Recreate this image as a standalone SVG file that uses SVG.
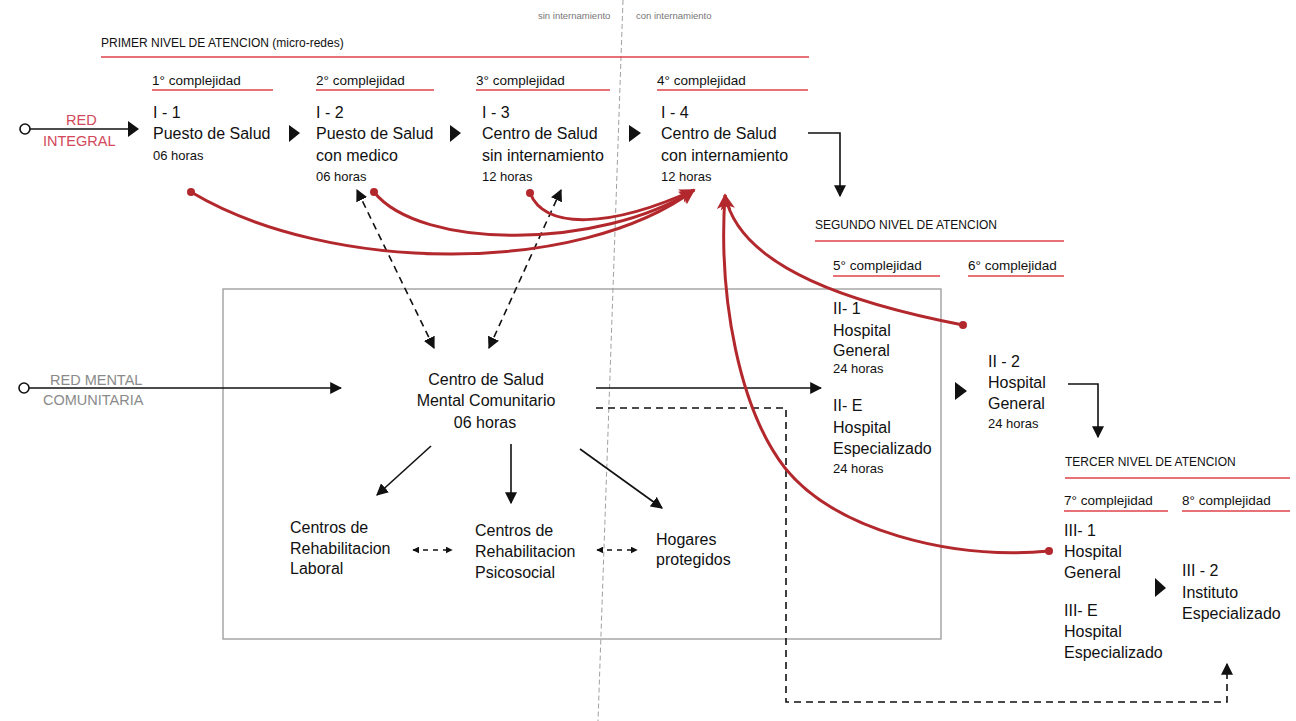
<svg xmlns="http://www.w3.org/2000/svg" width="1296" height="721" viewBox="0 0 1296 721">
<defs>
<style>
text{font-family:"Liberation Sans",Arial,sans-serif;fill:#111}
.n{font-size:16px}
.h{font-size:13px}
.c{font-size:13.5px}
.lvl{font-size:12px}
.tiny{font-size:9.5px;fill:#777}
.gray{font-size:14.5px;fill:#8a8a8a}
.redt{font-size:14.5px;fill:#d2485a}
.rl{stroke:#e0404a;stroke-width:1.3;fill:none}
.blk{stroke:#111;stroke-width:1.6;fill:none}
.dsh{stroke:#111;stroke-width:1.6;fill:none;stroke-dasharray:7 5}
.red{stroke:#b3282d;stroke-width:3;fill:none}
</style>
<marker id="ab" viewBox="0 0 10 10" refX="9" refY="5" markerWidth="7" markerHeight="7" markerUnits="userSpaceOnUse" orient="auto-start-reverse">
<path d="M0,0 L10,5 L0,10 Z" fill="#111"/>
</marker>
<marker id="abL" viewBox="0 0 10 10" refX="9" refY="5" markerWidth="12" markerHeight="12" markerUnits="userSpaceOnUse" orient="auto-start-reverse">
<path d="M0,0 L10,5 L0,10 Z" fill="#111"/>
</marker>
<marker id="ar" viewBox="0 0 10 10" refX="9" refY="5" markerWidth="16" markerHeight="16" markerUnits="userSpaceOnUse" orient="auto">
<path d="M0,0.5 L10,5 L0,9.5 L2.5,5 Z" fill="#b3282d"/>
</marker>
</defs>
<rect width="1296" height="721" fill="#fff"/>

<g id="divider">
<line x1="623" y1="0" x2="598" y2="721" stroke="#888" stroke-width="0.8" stroke-dasharray="5 3"/>
<text class="tiny" x="538" y="19">sin internamiento</text>
<text class="tiny" x="636" y="19">con internamiento</text>
</g>

<g id="primer-nivel">
<text class="lvl" x="101" y="47">PRIMER NIVEL DE ATENCION (micro-redes)</text>
<line class="rl" x1="101" y1="57" x2="809" y2="57"/>
<text class="c" x="152" y="85">1° complejidad</text>
<line class="rl" x1="152" y1="90" x2="273" y2="90"/>
<text class="c" x="316" y="85">2° complejidad</text>
<line class="rl" x1="316" y1="90" x2="434" y2="90"/>
<text class="c" x="476" y="85">3° complejidad</text>
<line class="rl" x1="476" y1="90" x2="610" y2="90"/>
<text class="c" x="657" y="85">4° complejidad</text>
<line class="rl" x1="657" y1="90" x2="808" y2="90"/>
</g>
<g id="segundo-nivel">
<text class="lvl" x="815" y="229">SEGUNDO NIVEL DE ATENCION</text>
<line class="rl" x1="815" y1="241" x2="1064" y2="241"/>
<text class="c" x="833" y="270">5° complejidad</text>
<line class="rl" x1="833" y1="276" x2="940" y2="276"/>
<text class="c" x="968" y="270">6° complejidad</text>
<line class="rl" x1="968" y1="276" x2="1064" y2="276"/>
</g>
<g id="tercer-nivel">
<text class="lvl" x="1065" y="466">TERCER NIVEL DE ATENCION</text>
<line class="rl" x1="1065" y1="478" x2="1290" y2="478"/>
<text class="c" x="1064" y="505">7° complejidad</text>
<line class="rl" x1="1064" y1="511" x2="1168" y2="511"/>
<text class="c" x="1182" y="505">8° complejidad</text>
<line class="rl" x1="1182" y1="511" x2="1290" y2="511"/>
</g>

<rect id="mental-box" x="223" y="289" width="718" height="350" fill="none" stroke="#999" stroke-width="1.3"/>

<g id="red-integral">
<text class="redt" x="66" y="125">RED</text>
<text class="redt" x="43" y="146">INTEGRAL</text>
</g>
<g id="I-1">
<text class="n" x="153" y="118">I - 1</text>
<text class="n" x="153" y="139">Puesto de Salud</text>
<text class="h" x="153" y="160">06 horas</text>
</g>
<g id="I-2">
<text class="n" x="316" y="118">I - 2</text>
<text class="n" x="316" y="139">Puesto de Salud</text>
<text class="n" x="316" y="161">con medico</text>
<text class="h" x="316" y="181">06 horas</text>
</g>
<g id="I-3">
<text class="n" x="482" y="118">I - 3</text>
<text class="n" x="482" y="139">Centro de Salud</text>
<text class="n" x="482" y="161">sin internamiento</text>
<text class="h" x="482" y="181">12 horas</text>
</g>
<g id="I-4">
<text class="n" x="661" y="118">I - 4</text>
<text class="n" x="661" y="139">Centro de Salud</text>
<text class="n" x="661" y="161">con internamiento</text>
<text class="h" x="661" y="181">12 horas</text>
</g>
<g id="II-1">
<text class="n" x="833" y="314">II- 1</text>
<text class="n" x="833" y="336">Hospital</text>
<text class="n" x="833" y="356">General</text>
<text class="h" x="833" y="373">24 horas</text>
</g>
<g id="II-E">
<text class="n" x="833" y="411">II- E</text>
<text class="n" x="833" y="433">Hospital</text>
<text class="n" x="833" y="454">Especializado</text>
<text class="h" x="833" y="473">24 horas</text>
</g>
<g id="II-2">
<text class="n" x="988" y="367">II - 2</text>
<text class="n" x="988" y="388">Hospital</text>
<text class="n" x="988" y="409">General</text>
<text class="h" x="988" y="428">24 horas</text>
</g>
<g id="III-1">
<text class="n" x="1064" y="536">III- 1</text>
<text class="n" x="1064" y="557">Hospital</text>
<text class="n" x="1064" y="578">General</text>
</g>
<g id="III-E">
<text class="n" x="1064" y="616">III- E</text>
<text class="n" x="1064" y="637">Hospital</text>
<text class="n" x="1064" y="658">Especializado</text>
</g>
<g id="III-2">
<text class="n" x="1182" y="576">III - 2</text>
<text class="n" x="1182" y="598">Instituto</text>
<text class="n" x="1182" y="619">Especializado</text>
</g>
<g id="red-mental">
<text class="gray" x="50" y="385">RED MENTAL</text>
<text class="gray" x="43" y="405">COMUNITARIA</text>
</g>
<g id="csmc">
<text class="n" x="486" y="385" text-anchor="middle">Centro de Salud</text>
<text class="n" x="486" y="406" text-anchor="middle">Mental Comunitario</text>
<text class="n" x="485" y="428" text-anchor="middle">06 horas</text>
</g>
<g id="laboral">
<text class="n" x="290" y="533">Centros de</text>
<text class="n" x="290" y="554">Rehabilitacion</text>
<text class="n" x="290" y="574">Laboral</text>
</g>
<g id="psicosocial">
<text class="n" x="475" y="536">Centros de</text>
<text class="n" x="475" y="557">Rehabilitacion</text>
<text class="n" x="475" y="578">Psicosocial</text>
</g>
<g id="hogares">
<text class="n" x="656" y="545">Hogares</text>
<text class="n" x="656" y="565">protegidos</text>
</g>

<g id="connectors">
<circle cx="25" cy="129" r="5" fill="#fff" stroke="#111" stroke-width="1.6"/>
<line class="blk" x1="30" y1="129" x2="130" y2="129"/>
<polygon points="128,121 139,129 128,137" fill="#111"/>
<polygon points="289,125 300,133 289,142" fill="#111"/>
<polygon points="450,125 461,133 450,142" fill="#111"/>
<polygon points="629,125 641,133 629,142" fill="#111"/>
<polyline class="blk" points="808,133 840,133 840,196" marker-end="url(#abL)"/>
<polygon points="955,382 967,391 955,400" fill="#111"/>
<polyline class="blk" points="1068,384 1098,384 1098,437" marker-end="url(#abL)"/>
<polygon points="1155,578 1166,588 1155,597" fill="#111"/>

<circle cx="24" cy="388" r="5" fill="#fff" stroke="#111" stroke-width="1.6"/>
<line class="blk" x1="29" y1="388" x2="341" y2="388" marker-end="url(#abL)"/>
<line class="blk" x1="596" y1="388" x2="821" y2="388" marker-end="url(#abL)"/>
<polyline class="dsh" points="596,408 786,408 786,702 1227,702 1227,664" marker-end="url(#abL)"/>

<line class="dsh" x1="434" y1="348" x2="357" y2="190" marker-start="url(#abL)" marker-end="url(#abL)"/>
<line class="dsh" x1="489" y1="348" x2="561" y2="190" marker-start="url(#abL)" marker-end="url(#abL)"/>

<line class="blk" x1="431" y1="446" x2="377" y2="495" marker-end="url(#abL)"/>
<line class="blk" x1="511" y1="444" x2="511" y2="503" marker-end="url(#abL)"/>
<line class="blk" x1="580" y1="449" x2="662" y2="508" marker-end="url(#abL)"/>

<line class="blk" x1="413" y1="550" x2="452" y2="550" stroke-width="1.2" stroke-dasharray="5 5" marker-start="url(#ab)" marker-end="url(#ab)"/>
<line class="blk" x1="597" y1="550" x2="637" y2="550" stroke-width="1.2" stroke-dasharray="5 5" marker-start="url(#ab)" marker-end="url(#ab)"/>

<path class="red" d="M191,192 C330,275 580,275 694,190" marker-end="url(#ar)"/>
<path class="red" d="M374,192 C420,250 600,250 694,190" marker-end="url(#ar)"/>
<path class="red" d="M530,193 C545,230 610,228 694,190" marker-end="url(#ar)"/>
<path class="red" d="M963,325 C860,305 740,270 725,195" marker-end="url(#ar)"/>
<path class="red" d="M1049,551 C950,560 835,530 785,468 C740,410 718,300 725,195" marker-end="url(#ar)"/>
<circle cx="191" cy="192" r="4" fill="#b3282d"/>
<circle cx="374" cy="192" r="4" fill="#b3282d"/>
<circle cx="530" cy="193" r="4" fill="#b3282d"/>
<circle cx="963" cy="325" r="4" fill="#b3282d"/>
<circle cx="1049" cy="551" r="4" fill="#b3282d"/>
</g>
</svg>
